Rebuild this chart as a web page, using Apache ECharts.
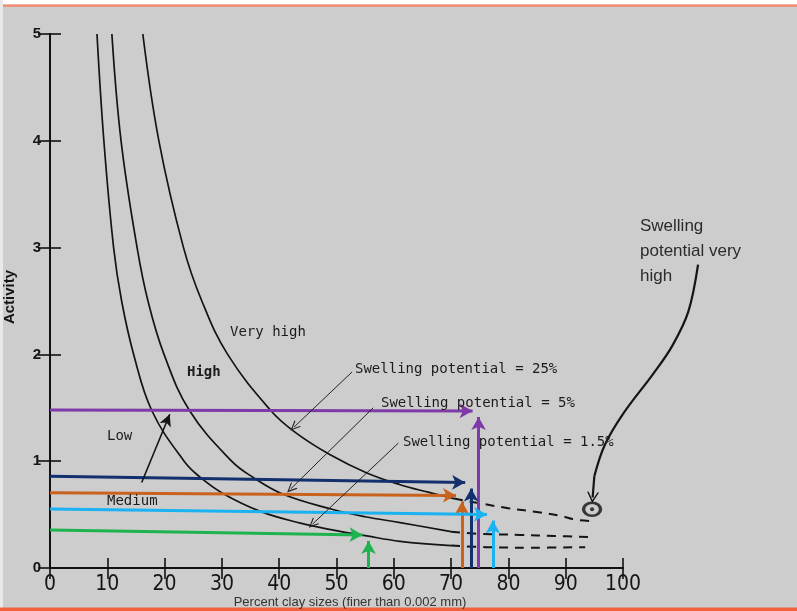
<!DOCTYPE html>
<html><head><meta charset="utf-8">
<script src="https://cdn.jsdelivr.net/npm/echarts@6/dist/echarts.min.js"></script>
<style>html,body{margin:0;padding:0;background:#fff}#c{width:797px;height:611px}</style>
</head><body><div id="c"></div>
<script>
// ---- axes ----
const xMin = 0, xMax = 100, xStep = 10;
const yMin = 0, yMax = 5, yStep = 1;

// ---- swelling potential boundary curves: [percent clay, activity] ----
const curve1_5 = [[8.2,5],[9.4,4],[11.1,3],[12.5,2.5],[14.6,2],[17.8,1.47],[23.4,1.0],[26.2,0.85],[30.1,0.70],[36.7,0.53],[43.7,0.42],[49,0.36],[55.3,0.30],[61.1,0.25],[70,0.21]];
const curve1_5Dashed = [[70,0.21],[76,0.195],[84,0.19],[93.4,0.195]];
const curve5 = [[10.8,5],[12.4,4],[15.2,3],[17.1,2.5],[19.9,2],[24.4,1.47],[31.7,1.0],[35.4,0.85],[40.7,0.69],[49.2,0.55],[55,0.48],[61.1,0.425],[70,0.34]];
const curve5Dashed = [[70,0.34],[75,0.32],[82,0.31],[88,0.30],[94.6,0.29]];
const curve25 = [[16.2,5],[19.0,4],[23.3,3],[26.5,2.5],[31.0,2],[38.6,1.47],[42.8,1.27],[48.9,1.06],[55.3,0.89],[61.1,0.78],[66,0.71],[70.5,0.65]];
const curve25Dashed = [[70.5,0.65],[75.6,0.60],[80,0.56],[85.6,0.52],[89,0.49],[92,0.45],[95,0.44]];

// ---- sample cases (coloured arrows) ----
const caseClay = [74.8, 73.5, 71.9, 77.3, 55.6];
const caseActivity = [1.47, 0.80, 0.68, 0.50, 0.31];
const caseStartActivity = [1.48, 0.86, 0.705, 0.552, 0.356];
const caseColors = ['#7d3aa8', '#13306e', '#c9621d', '#1ab2f0', '#1eb34f'];

// ---- "swelling potential very high" marker ----
const veryHighPoint = [94.6, 0.55];
const veryHighArrowPath = [[113.1,2.84],[111.4,2.4],[108.6,2.08],[105.3,1.82],[100.1,1.45],[96.8,1.15],[95.0,0.86]];
const veryHighArrowTip = [94.7, 0.66];

// ---- annotation leaders (from, to) ----
const leaders = [
  [[52.7,1.835],[42.6,1.32]],   // 25%
  [[56.4,1.50],[42.0,0.74]],    // 5%
  [[60.8,1.17],[45.8,0.41]]     // 1.5%
];
const mediumArrow = [[16.0,0.80],[20.9,1.44]];

const chevron = 'path://M0,12 L6,0 L12,12 L10.4,12 L6,3.2 L1.6,12 Z';
const pxX = 5.727, pxY = 106.8; // approx pixels per unit, used for arrow-tip offsets

const series = [];
function curveSeries(data, dashed) {
  return {
    type: 'line', data: data, smooth: 0.4, symbol: 'none', silent: true,
    lineStyle: { color: '#141414', width: dashed ? 2 : 1.7, type: dashed ? [9, 7] : 'solid' },
    z: 3
  };
}
series.push(curveSeries(curve1_5, false), curveSeries(curve1_5Dashed, true),
            curveSeries(curve5, false), curveSeries(curve5Dashed, true),
            curveSeries(curve25, false), curveSeries(curve25Dashed, true));

caseClay.forEach(function (cx, i) {
  const ay = caseActivity[i];
  series.push({
    type: 'line', data: [[cx, ay]], symbol: 'none', silent: true, z: 5,
    lineStyle: { opacity: 0 },
    markLine: {
      silent: true, animation: false,
      symbol: ['none', 'arrow'], symbolSize: [11, 13],
      label: { show: false },
      lineStyle: { color: caseColors[i], width: 3, type: 'solid' },
      emphasis: { disabled: true },
      data: [
        [{ coord: [0, caseStartActivity[i]] }, { coord: [cx - 6 / pxX, ay] }],
        [{ coord: [cx, 0] }, { coord: [cx, ay - 6 / pxY] }]
      ]
    }
  });
});

// leaders
series.push({
  type: 'line', data: [mediumArrow[1]], symbol: 'none', silent: true, z: 4,
  lineStyle: { opacity: 0 },
  markLine: {
    silent: true, animation: false,
    symbol: ['none', chevron], symbolSize: [9, 10],
    label: { show: false },
    lineStyle: { color: '#222', width: 1, type: 'solid' },
    emphasis: { disabled: true },
    data: leaders.map(function (l) { return [{ coord: l[0] }, { coord: l[1] }]; })
  }
});
series.push({
  type: 'line', data: [mediumArrow[1]], symbol: 'none', silent: true, z: 4,
  lineStyle: { opacity: 0 },
  markLine: {
    silent: true, animation: false,
    symbol: ['none', 'arrow'], symbolSize: [9, 12],
    label: { show: false },
    lineStyle: { color: '#151515', width: 1.6, type: 'solid' },
    emphasis: { disabled: true },
    data: [[{ coord: mediumArrow[0] }, { coord: mediumArrow[1] }]]
  }
});

// arrow head of the curved "very high" arrow
series.push({
  type: 'line', data: [veryHighArrowTip], symbol: 'none', silent: true, z: 6,
  lineStyle: { opacity: 0 },
  markLine: {
    silent: true, animation: false,
    symbol: ['none', chevron], symbolSize: [12, 11],
    label: { show: false },
    lineStyle: { color: '#151515', width: 2.2, type: 'solid' },
    emphasis: { disabled: true },
    data: [[{ coord: veryHighArrowPath[veryHighArrowPath.length - 1] }, { coord: veryHighArrowTip }]]
  }
});

// bullseye
series.push({
  type: 'scatter', data: [veryHighPoint], symbol: 'circle', symbolSize: [17, 13], silent: true, z: 6,
  itemStyle: { color: 'rgba(0,0,0,0)', borderColor: '#111', borderWidth: 3 }
});
series.push({
  type: 'scatter', data: [veryHighPoint], symbol: 'circle', symbolSize: 4, silent: true, z: 7,
  itemStyle: { color: '#111' }
});

const mono = '"DejaVu Sans Mono", monospace';
function txt(id, text, x, y, extra) {
  return {
    id: id, type: 'text', x: x, y: y, silent: true, z: 20,
    style: Object.assign({ text: text, fill: '#1c1c1c', font: '14px ' + mono, verticalAlign: 'middle' }, extra || {})
  };
}

const option = {
  animation: false,
  backgroundColor: '#cdcdcd',
  grid: { left: 50, right: 174, top: 34, bottom: 43, containLabel: false },
  xAxis: [{
    type: 'value', min: xMin, max: xMax, interval: xStep, position: 'bottom',
    axisLine: { show: true, lineStyle: { color: '#111', width: 2 } },
    axisTick: { show: true, inside: true, length: 10, lineStyle: { color: '#111', width: 1.6 } },
    axisLabel: { show: true, margin: 6, color: '#151515', fontSize: 21, fontFamily: '"Liberation Sans Narrow", "DejaVu Sans Condensed", "Liberation Sans", sans-serif' },
    splitLine: { show: false }
  }, {
    type: 'value', min: xMin, max: xMax, interval: xStep, position: 'top',
    axisLine: { show: true, lineStyle: { color: '#111', width: 2 } },
    axisTick: { show: true, inside: true, length: 11, lineStyle: { color: '#111', width: 1.6 } },
    axisLabel: { show: false }, splitLine: { show: false }
  }],
  yAxis: [{
    type: 'value', min: yMin, max: yMax, interval: yStep, position: 'left',
    axisLine: { show: true, lineStyle: { color: '#111', width: 2 } },
    axisTick: { show: true, inside: true, length: 11, lineStyle: { color: '#111', width: 1.6 } },
    axisLabel: { show: true, margin: 9, color: '#151515', fontSize: 15, fontWeight: 'bold', fontFamily: '"Liberation Sans", Arial, sans-serif' },
    splitLine: { show: false }
  }, {
    type: 'value', min: yMin, max: yMax, interval: yStep, position: 'right',
    axisLine: { show: true, lineStyle: { color: '#111', width: 2 } },
    axisTick: { show: true, inside: true, length: 12, lineStyle: { color: '#111', width: 1.6 } },
    axisLabel: { show: false }, splitLine: { show: false }
  }],
  series: series,
  graphic: [
    { id: 'bgTop', type: 'rect', shape: { x: 0, y: 0, width: 797, height: 4.5 }, style: { fill: '#ffffff' }, silent: true },
    { id: 'lineTop', type: 'rect', shape: { x: 0, y: 4.5, width: 797, height: 2.2 }, style: { fill: '#f3866b' }, silent: true },
    { id: 'bgLeft', type: 'rect', shape: { x: 0, y: 0, width: 3, height: 611 }, style: { fill: '#e9e9e9' }, silent: true },
    { id: 'lineBottom', type: 'rect', shape: { x: 0, y: 607.5, width: 797, height: 3.5 }, style: { fill: '#f0603c' }, silent: true },
    txt('t1', 'Very high', 230, 332),
    txt('t2', 'High', 187, 372, { font: 'bold 14px ' + mono }),
    txt('t3', 'Low', 107, 436),
    txt('t4', 'Medium', 107, 501),
    txt('t5', 'Swelling potential = 25%', 355, 369),
    txt('t6', 'Swelling potential = 5%', 381, 403),
    txt('t7', 'Swelling potential = 1.5%', 403, 442),
    { id: 't8', type: 'text', x: 640, y: 214, silent: true, z: 20,
      style: { text: 'Swelling\npotential very\nhigh', fill: '#2b2b2b', font: '17px "Liberation Sans", Arial, sans-serif', lineHeight: 25, verticalAlign: 'top' } },
    { id: 't9', type: 'text', x: 350, y: 602, silent: true, z: 20,
      style: { text: 'Percent clay sizes (finer than 0.002 mm)', fill: '#333', font: '13px "Liberation Sans", Arial, sans-serif', align: 'center', verticalAlign: 'middle' } },
    { id: 't10', type: 'text', x: 10, y: 297, rotation: Math.PI / 2, silent: true, z: 20,
      style: { text: 'Activity', fill: '#151515', font: 'bold 15px "Liberation Sans", Arial, sans-serif', align: 'center', verticalAlign: 'middle' } }
  ]
};

const chart = echarts.init(document.getElementById('c'), null, { renderer: 'canvas' });
chart.setOption(option);
// curved arrow partly outside the plot: positioned through the chart's own scales
const vhPts = veryHighArrowPath.map(function (p) { return chart.convertToPixel({ gridIndex: 0 }, p); });
chart.setOption({
  graphic: [{
    id: 'vhArrow', type: 'polyline', silent: true, z: 15,
    shape: { points: vhPts, smooth: 0.35 },
    style: { stroke: '#151515', lineWidth: 2.2, fill: null }
  }]
});
</script>
</body></html>
